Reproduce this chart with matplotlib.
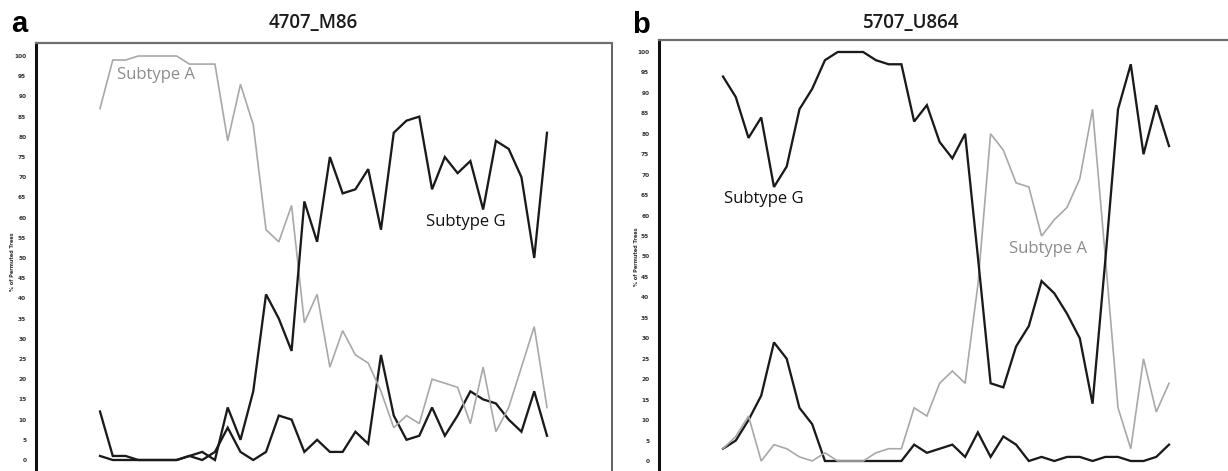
import numpy as np
import matplotlib
matplotlib.use('Agg')
import matplotlib.pyplot as plt

# panel a : 4707_M86
a_subtype_a = [87, 99, 99, 100, 100, 100, 100, 98, 98, 98, 79, 93, 83, 57, 54, 63, 34, 41,
               23, 32, 26, 24, 17, 8, 11, 9, 20, 19, 18, 9, 23, 7, 13, 23, 33, 13]
a_subtype_g = [12, 1, 1, 0, 0, 0, 0, 1, 2, 0, 13, 5, 17, 41, 35, 27, 64, 54,
               75, 66, 67, 72, 57, 81, 84, 85, 67, 75, 71, 74, 62, 79, 77, 70, 50, 81]
a_other = [1, 0, 0, 0, 0, 0, 0, 1, 0, 2, 8, 2, 0, 2, 11, 10, 2, 5,
           2, 2, 7, 4, 26, 11, 5, 6, 13, 6, 11, 17, 15, 14, 10, 7, 17, 6]

# panel b : 5707_U864
b_subtype_a = [3, 6, 11, 0, 4, 3, 1, 0, 2, 0, 0, 0, 2, 3, 3, 13, 11, 19,
               22, 19, 43, 80, 76, 68, 67, 55, 59, 62, 69, 86, 50, 13, 3, 25, 12, 19]
b_subtype_g = [94, 89, 79, 84, 67, 72, 86, 91, 98, 100, 100, 100, 98, 97, 97, 83, 87, 78,
               74, 80, 50, 19, 18, 28, 33, 44, 41, 36, 30, 14, 49, 86, 97, 75, 87, 77]
b_other = [3, 5, 10, 16, 29, 25, 13, 9, 0, 0, 0, 0, 0, 0, 0, 4, 2, 3,
           4, 1, 7, 1, 6, 4, 0, 1, 0, 1, 1, 0, 1, 1, 0, 0, 1, 4]

yticks = list(range(0, 101, 5))

W, H = 1228, 471
GRAY = '#a8a8a8'
BLACK = '#1a1a1a'
TXT_FONT = ['Open Sans', 'DejaVu Sans']

fig = plt.figure(figsize=(W / 100, H / 100), dpi=100)


def make_panel(left_px, right_px, top_px, x0_px, step_px, y0_px, unit_px,
               sa, sg, so, right_spine):
    ax = fig.add_axes([left_px / W, 0, (right_px - left_px) / W, 1 - top_px / H])
    x = np.arange(len(sa))
    ax.plot(x, so, color=BLACK, lw=1.65, solid_joinstyle='miter')
    ax.plot(x, sa, color=GRAY, lw=1.2, solid_joinstyle='miter')
    ax.plot(x, sg, color=BLACK, lw=1.65, solid_joinstyle='miter')
    ax.set_xlim((left_px - x0_px) / step_px, (right_px - x0_px) / step_px)
    ax.set_ylim((y0_px - H) / unit_px, (y0_px - top_px) / unit_px)
    ax.set_xticks([])
    ax.set_yticks(yticks)
    ax.set_yticklabels([str(t) for t in yticks], fontsize=4.2, fontweight='bold',
                       color='#333333')
    ax.tick_params(axis='y', length=0, pad=7)
    ax.spines['bottom'].set_visible(False)
    ax.spines['left'].set_linewidth(2.2)
    ax.spines['left'].set_color('#111111')
    ax.spines['top'].set_linewidth(1.6)
    ax.spines['top'].set_color('#6e6e6e')
    if right_spine:
        ax.spines['right'].set_linewidth(1.3)
        ax.spines['right'].set_color('#555555')
    else:
        ax.spines['right'].set_visible(False)
    return ax


ax1 = make_panel(36, 612, 43, 100, 447 / 35, 460, 4.04,
                 a_subtype_a, a_subtype_g, a_other, True)
ax2 = make_panel(659, 1228, 40, 723, 446 / 35, 461, 4.09,
                 b_subtype_a, b_subtype_g, b_other, False)

# series labels
ax1.text(4.42, 94.2, 'Subtype A', color='#8c8c8c', fontsize=12, family=TXT_FONT,
         ha='center', va='baseline')
ax1.text(28.66, 57.9, 'Subtype G', color='#111111', fontsize=12, family=TXT_FONT,
         ha='center', va='baseline')
ax2.text(3.18, 63.1, 'Subtype G', color='#111111', fontsize=12, family=TXT_FONT,
         ha='center', va='baseline')
ax2.text(25.47, 50.9, 'Subtype A', color='#8c8c8c', fontsize=12, family=TXT_FONT,
         ha='center', va='baseline')

# titles and panel letters
fig.text(313 / W, 1 - 28 / H, '4707_M86', fontsize=13.5, family=TXT_FONT,
         fontweight='semibold', ha='center', va='baseline', color='#1a1a1a')
fig.text(911 / W, 1 - 28 / H, '5707_U864', fontsize=13.5, family=TXT_FONT,
         fontweight='semibold', ha='center', va='baseline', color='#1a1a1a')
fig.text(19.5 / W, 1 - 32 / H, 'a', fontsize=21, fontweight='bold',
         family='Liberation Sans', ha='center', va='baseline')
fig.text(641 / W, 1 - 33 / H, 'b', fontsize=21, fontweight='bold',
         family='Liberation Sans', ha='center', va='baseline')

# y axis labels
fig.text(13 / W, 1 - 262 / H, '% of Permuted Trees', fontsize=3.6, fontweight='bold',
         rotation=90, ha='center', va='center', color='#333333')
fig.text(637 / W, 1 - 257 / H, '% of Permuted Trees', fontsize=3.6, fontweight='bold',
         rotation=90, ha='center', va='center', color='#333333')

fig.savefig('out.png', dpi=100)
